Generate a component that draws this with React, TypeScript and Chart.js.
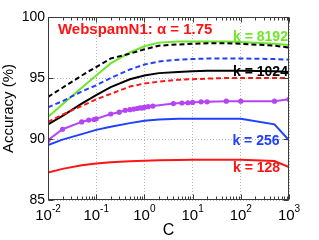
import React, { useEffect, useRef } from 'react';
import { Chart, registerables } from 'chart.js';

Chart.register(...registerables);

// Regularisation parameter C for the k-curves
const C_GRID = [0.01, 0.02, 0.05, 0.1, 0.2, 0.5, 1, 2, 5, 10, 20, 50, 100, 500, 1000];

// Solid curves (k = 8192, 1024, 256, 128)
const K8192 = [91.8, 92.85, 94.2, 95.2, 96.2, 97.1, 97.6, 97.9, 98.0, 98.0, 98.0, 98.0, 97.95, 97.8, 97.7];
const K1024 = [91.2, 91.9, 92.9, 93.6, 94.25, 94.9, 95.2, 95.4, 95.5, 95.55, 95.6, 95.6, 95.6, 95.55, 95.5];
const K256 = [89.5, 89.95, 90.4, 90.75, 91.0, 91.3, 91.5, 91.6, 91.65, 91.65, 91.65, 91.65, 91.65, 91.2, 89.9];
const K128 = [87.25, 87.55, 87.85, 88.0, 88.1, 88.18, 88.22, 88.25, 88.28, 88.3, 88.3, 88.3, 88.3, 88.2, 87.7];

// Dashed curves
const D8192 = [93.45, 94.2, 95.2, 95.9, 96.6, 97.0, 97.35, 97.65, 97.75, 97.8, 97.85, 97.85, 97.8, 97.65, 97.5];
const D1024 = [92.6, 93.1, 93.9, 94.4, 95.0, 95.7, 96.1, 96.35, 96.5, 96.55, 96.6, 96.6, 96.6, 96.55, 96.5];
const D256 = [91.4, 92.0, 92.7, 93.25, 93.7, 94.3, 94.55, 94.7, 94.85, 94.9, 94.95, 95.0, 95.0, 95.0, 95.0];

// Baseline curve with markers
const BASE_C = [0.01, 0.02, 0.05, 0.07, 0.09, 0.1, 0.2, 0.3, 0.4, 0.5, 0.6, 0.7, 0.8, 0.9, 1, 1.2, 1.5, 4, 6, 8, 10, 15, 20, 50, 100, 500, 1000];
const BASE_ACC = [89.9, 90.8, 91.4, 91.55, 91.6, 91.65, 92.05, 92.2, 92.35, 92.4, 92.45, 92.5, 92.55, 92.55, 92.6, 92.65, 92.7, 92.9, 92.95, 92.97, 93.0, 93.05, 93.05, 93.1, 93.1, 93.1, 93.25];

const X_MAJOR = [0.01, 0.1, 1, 10, 100, 1000];
const X_EXP = ['-2', '-1', '0', '1', '2', '3'];
const Y_TICKS = [85, 90, 95, 100];

const RED = '#ff1414';
const BLUE = '#2040ff';
const GREEN = '#6ee62a';
const PURPLE = '#b444f5';
const BLACK = '#000000';

const ANNOT_TEXT = ['WebspamN1: \u03b1 = 1.75', 'k = 8192', 'k = 1024', 'k = 256', 'k = 128'];
const ANNOT_C = [0.0161, 69, 69, 67, 69];
const ANNOT_ACC = [98.95, 98.36, 95.49, 89.84, 87.62];
const ANNOT_COLOR = [RED, GREEN, BLACK, BLUE, RED];
const ANNOT_SIZE = [15, 14, 14, 14, 14];

const FONT = "'Liberation Sans', Arial, Helvetica, sans-serif";

const framePlugin = {
  id: 'frame',
  afterDraw(chart: any) {
    const { ctx, chartArea: a, scales } = chart;
    const xs = scales.x;
    const ys = scales.y;
    ctx.save();
    const L = Math.round(a.left) + 0.5;
    const R = Math.round(a.right) - 0.5;
    const T = Math.round(a.top) + 0.5;
    const B = Math.round(a.bottom) - 0.5;
    ctx.strokeStyle = '#3a3a3a';
    ctx.lineWidth = 1;
    ctx.setLineDash([]);
    ctx.strokeRect(L, T, R - L, B - T);
    ctx.beginPath();
    for (let k = -2; k <= 3; k++) {
      for (let m = 1; m <= 9; m++) {
        const v = m * Math.pow(10, k);
        if (v > 1000 * 1.0001) break;
        const px = Math.round(xs.getPixelForValue(v)) + 0.5;
        const len = m === 1 ? 5 : 3;
        ctx.moveTo(px, B);
        ctx.lineTo(px, B - len);
        ctx.moveTo(px, T);
        ctx.lineTo(px, T + len);
      }
    }
    for (const v of Y_TICKS) {
      const py = Math.round(ys.getPixelForValue(v)) + 0.5;
      ctx.moveTo(L, py);
      ctx.lineTo(L + 5, py);
      ctx.moveTo(R, py);
      ctx.lineTo(R - 5, py);
    }
    ctx.stroke();

    // x tick labels with superscript exponents
    ctx.fillStyle = '#000';
    ctx.textBaseline = 'middle';
    ctx.textAlign = 'left';
    X_MAJOR.forEach((v, i) => {
      const px = xs.getPixelForValue(v);
      ctx.font = `15px ${FONT}`;
      const w1 = ctx.measureText('10').width;
      ctx.font = `10px ${FONT}`;
      const w2 = ctx.measureText(X_EXP[i]).width;
      const x0 = px - (w1 + w2) / 2;
      ctx.font = `15px ${FONT}`;
      ctx.fillText('10', x0, a.bottom + 16);
      ctx.font = `10px ${FONT}`;
      ctx.fillText(X_EXP[i], x0 + w1, a.bottom + 9);
    });

    // annotations
    ANNOT_TEXT.forEach((t, i) => {
      ctx.font = `bold ${ANNOT_SIZE[i]}px ${FONT}`;
      ctx.fillStyle = ANNOT_COLOR[i];
      ctx.fillText(t, xs.getPixelForValue(ANNOT_C[i]), ys.getPixelForValue(ANNOT_ACC[i]));
    });
    ctx.restore();
  },
};

function line(data: number[], color: string, dashed: boolean, xs: number[] = C_GRID) {
  return {
    data: xs.map((c, i) => ({ x: c, y: data[i] })),
    borderColor: color,
    backgroundColor: color,
    borderWidth: 2,
    borderDash: dashed ? [5, 3] : [],
    pointRadius: 0,
    tension: 0,
    fill: false,
  };
}

export default function App() {
  const ref = useRef<HTMLCanvasElement | null>(null);
  useEffect(() => {
    if (!ref.current) return;
    const gridCommon = { color: '#b8b8b8', lineWidth: 1, drawTicks: false };
    const chart = new Chart(ref.current, {
      type: 'line',
      data: {
        datasets: [
          line(K128, RED, false),
          line(K256, BLUE, false),
          {
            ...line(BASE_ACC, PURPLE, false, BASE_C),
            pointRadius: 2.6,
            pointBackgroundColor: PURPLE,
            pointBorderColor: PURPLE,
            pointBorderWidth: 0,
          },
          line(D256, RED, true),
          line(K1024, BLACK, false),
          line(D1024, BLUE, true),
          line(D8192, BLACK, true),
          line(K8192, GREEN, false),
        ] as any,
      },
      options: {
        animation: false,
        responsive: false,
        devicePixelRatio: 1,
        layout: { padding: { left: 0, right: 30, top: 17, bottom: 0 } },
        plugins: { legend: { display: false }, tooltip: { enabled: false } },
        scales: {
          x: {
            type: 'logarithmic',
            min: 0.01,
            max: 1000,
            afterBuildTicks: (s: any) => {
              s.ticks = X_MAJOR.map((v) => ({ value: v }));
            },
            afterFit: (s: any) => {
              s.height = 40;
            },
            ticks: { display: false },
            grid: gridCommon,
            border: { display: false, dash: [1, 2] },
            title: { display: true, text: 'C', color: '#000', font: { family: FONT, size: 16 }, padding: 0 },
          },
          y: {
            type: 'linear',
            min: 85,
            max: 100,
            afterBuildTicks: (s: any) => {
              s.ticks = Y_TICKS.map((v) => ({ value: v }));
            },
            afterFit: (s: any) => {
              s.width = 48;
            },
            ticks: { color: '#000', font: { family: FONT, size: 14 }, padding: 3 },
            grid: gridCommon,
            border: { display: false, dash: [1, 2] },
            title: { display: true, text: 'Accuracy (%)', color: '#000', font: { family: FONT, size: 15 }, padding: 0 },
          },
        },
      } as any,
      plugins: [framePlugin],
    });
    return () => chart.destroy();
  }, []);
  return (
    <div style={{ position: 'fixed', left: 0, top: 0, width: 319, height: 240, background: '#fff' }}>
      <canvas ref={ref} width={319} height={240} style={{ display: 'block', width: 319, height: 240 }} />
    </div>
  );
}
